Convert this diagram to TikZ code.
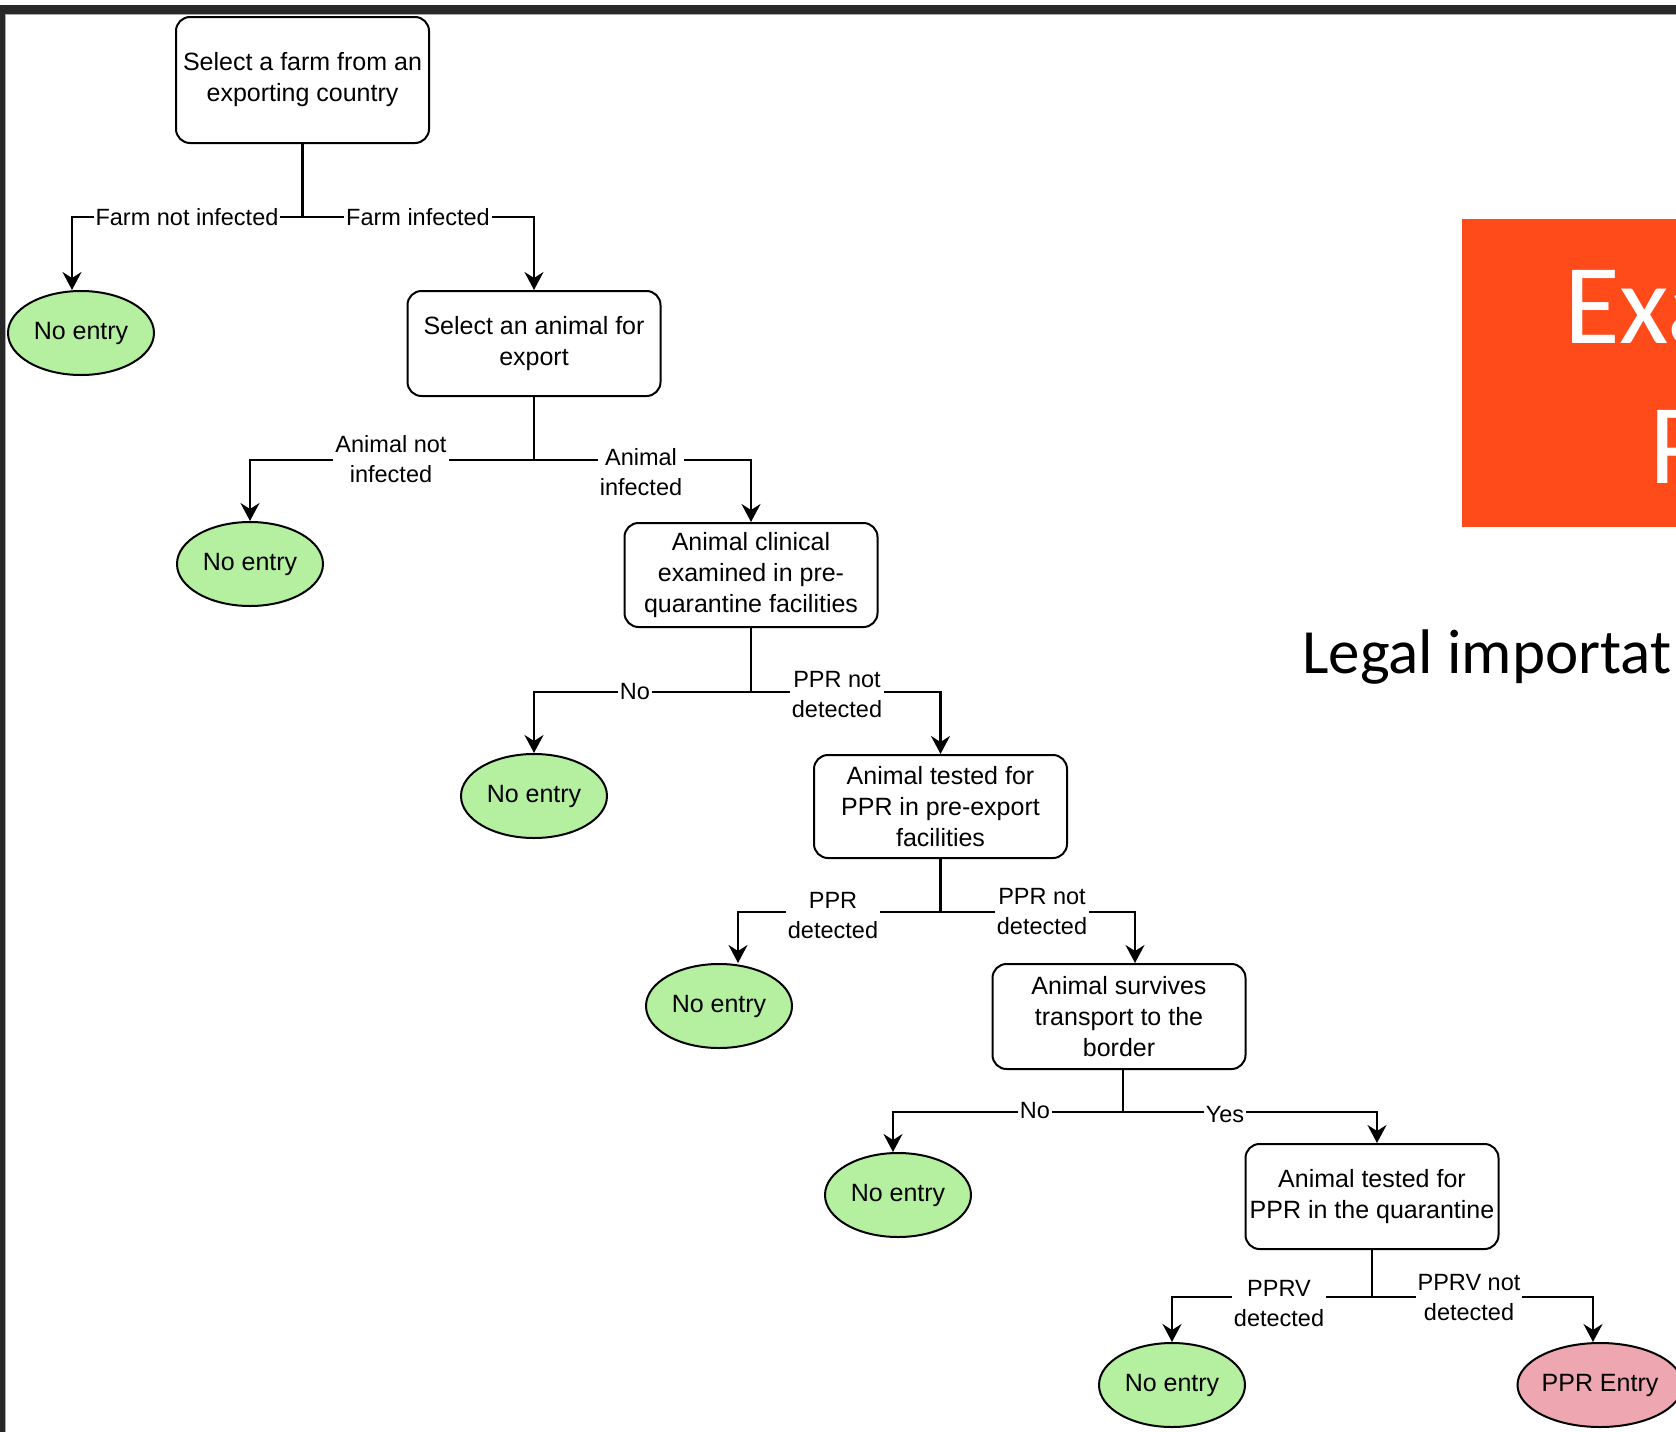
\documentclass[tikz,border=0pt]{standalone}
\usepackage{fontspec}
\setmainfont{Liberation Sans}
\newfontfamily\slidefont{Carlito}
\usetikzlibrary{arrows.meta,shapes.geometric}

\definecolor{noentry}{RGB}{180,240,160}
\definecolor{ppentry}{RGB}{238,166,176}
\definecolor{slideorange}{RGB}{255,74,26}
\definecolor{framedark}{RGB}{40,40,40}
\definecolor{frameedge}{RGB}{170,170,170}

\begin{document}
\begin{tikzpicture}[x=1pt,y=-1pt,
  stepbox/.style={draw, line width=2pt, rounded corners=14pt,
    minimum width=253pt, minimum height=104pt, inner sep=0pt,
    align=center, font=\fontsize{25}{31}\selectfont},
  endnode/.style={draw, ellipse, line width=2pt, fill=noentry,
    minimum width=146pt, minimum height=84pt, inner sep=0pt,
    font=\fontsize{25}{31}\selectfont},
  link/.style={line width=2.2pt},
  arrow/.style={line width=2.2pt, -{Stealth[length=18pt,width=19pt,inset=6pt]}},
  lbl/.style={fill=white, inner sep=2pt, align=center,
    font=\fontsize{23.5}{30}\selectfont}]

\useasboundingbox (0,0) rectangle (1676,1432);
\clip (0,0) rectangle (1676,1432);
\fill[white] (0,0) rectangle (1676,1432);

% window frame
\fill[framedark] (0,5) rectangle (1676,13.5);
\fill[frameedge] (4.5,13.5) rectangle (1676,15);
\fill[framedark] (0,5) rectangle (4.5,1432);
\fill[frameedge] (4.5,13.5) rectangle (5.5,1432);

% slide title block
\fill[slideorange] (1462,219) rectangle (1676,527);
\node[anchor=base west, inner sep=0pt, text=white,
  font=\slidefont\fontsize{114}{114}\selectfont] (title1) at (1564,343) {Exa};
\node[anchor=base west, inner sep=0pt, text=white,
  font=\slidefont\fontsize{114}{114}\selectfont] (title2) at (1649,483) {P};
\node[anchor=base west, inner sep=0pt,
  font=\slidefont\fontsize{63}{63}\selectfont] (subtitle) at (1302,673) {Legal importat};

% decision steps
\node[stepbox, minimum height=126pt] (s1) at (302.5,80) {Select a farm from an\\exporting country};
\node[stepbox, minimum height=105pt] (s2) at (534,343.5) {Select an animal for\\export};
\node[stepbox] (s3) at (751,575) {Animal clinical\\examined in pre-\\quarantine facilities};
\node[stepbox, minimum height=103pt] (s4) at (940.5,806.5) {Animal tested for\\PPR in pre-export\\facilities};
\node[stepbox, minimum height=105pt] (s5) at (1119,1016.5) {Animal survives\\transport to the\\border};
\node[stepbox, minimum height=105pt] (s6) at (1372,1196.5) {Animal tested for\\PPR in the quarantine};

% outcomes
\node[endnode] (n1) at (81,333) {No entry};
\node[endnode] (n2) at (250,564) {No entry};
\node[endnode] (n3) at (534,796) {No entry};
\node[endnode] (n4) at (719,1006) {No entry};
\node[endnode] (n5) at (898,1195) {No entry};
\node[endnode] (n6) at (1172,1385) {No entry};
\node[endnode, fill=ppentry, minimum width=140pt] (n7) at (1600,1385) {PPR Entry};

% branch points
\coordinate (j1) at (302.5,217);
\coordinate (j2) at (534,460);
\coordinate (j3) at (751,692);
\coordinate (j4) at (940.5,912);
\coordinate (j5) at (1123,1112);
\coordinate (j6) at (1372,1297);

% connectors
\draw[link] (s1.south) -- (j1);
\draw[arrow] (j1) -| ([xshift=-9pt]n1.north);
\draw[arrow] (j1) -| (s2.north);

\draw[link] (s2.south) -- (j2);
\draw[arrow] (j2) -| (n2.north);
\draw[arrow] (j2) -| (s3.north);

\draw[link] (s3.south) -- (j3);
\draw[arrow] (j3) -| (n3.north);
\draw[arrow] (j3) -| (s4.north);

\draw[link] (s4.south) -- (j4);
\draw[arrow] (j4) -| ([xshift=19pt]n4.north);
\draw[arrow] (j4) -| ([xshift=16pt]s5.north);

\draw[link] ([xshift=4pt]s5.south) -- (j5);
\draw[arrow] (j5) -| ([xshift=-5pt]n5.north);
\draw[arrow] (j5) -| ([xshift=5pt]s6.north);

\draw[link] (s6.south) -- (j6);
\draw[arrow] (j6) -| (n6.north);
\draw[arrow] (j6) -| ([xshift=-7pt]n7.north);

% connector labels
\node[lbl] (l1) at (187,217) {Farm not infected};
\node[lbl] (l2) at (418,217) {Farm infected};
\node[lbl] (l3) at (391,459) {Animal not\\infected};
\node[lbl] (l4) at (641,472) {Animal\\infected};
\node[lbl] (l5) at (635,692) {No};
\node[lbl] (l6) at (837,695) {PPR not\\detected};
\node[lbl] (l7) at (833,916) {PPR\\detected};
\node[lbl] (l8) at (1042,912) {PPR not\\detected};
\node[lbl] (l9) at (1035,1111) {No};
\node[lbl] (l10) at (1225,1115) {Yes};
\node[lbl] (l11) at (1279,1304) {PPRV\\detected};
\node[lbl] (l12) at (1469,1298) {PPRV not\\detected};
\end{tikzpicture}
\end{document}
